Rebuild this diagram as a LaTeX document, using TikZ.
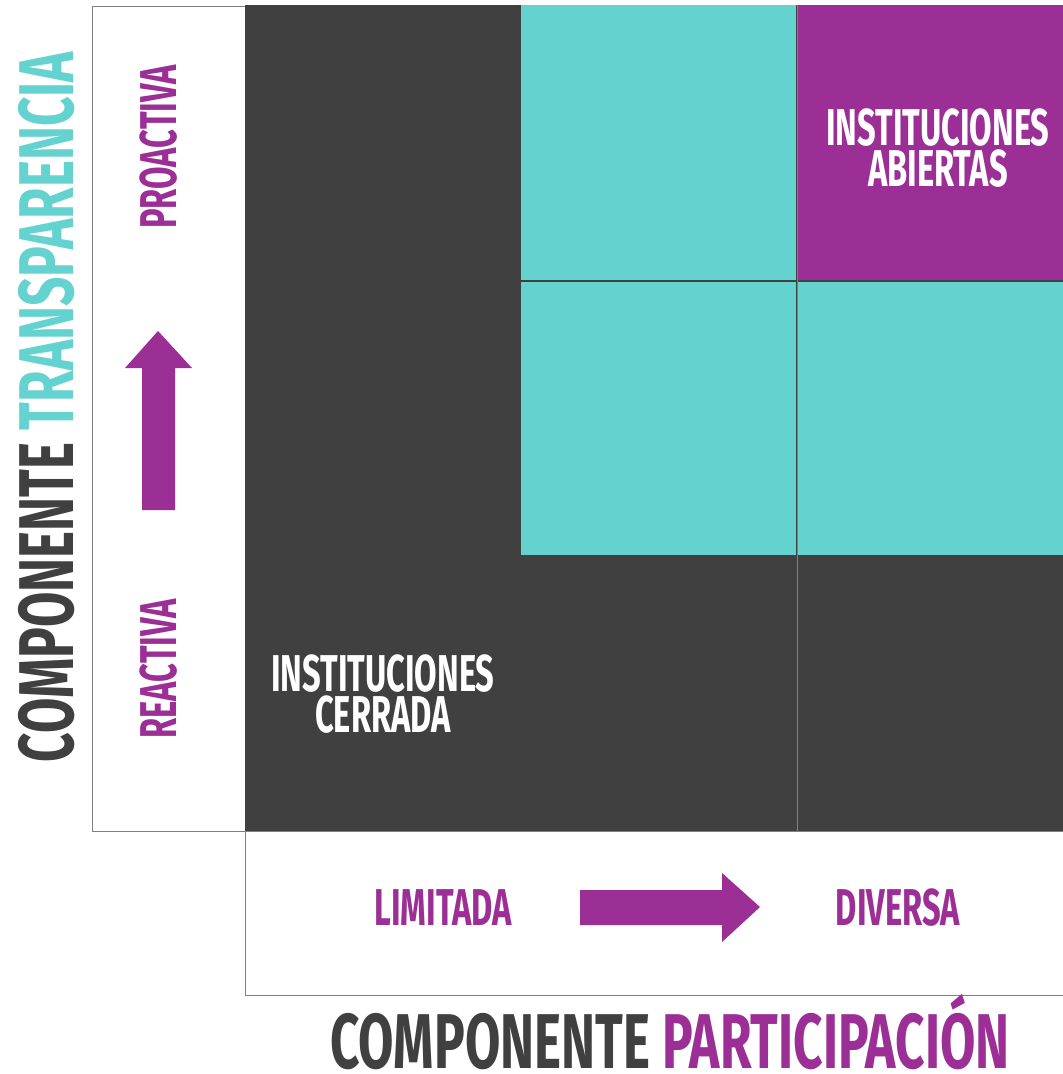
\documentclass[tikz,border=0pt]{standalone}
\usepackage{fontspec}
\newfontfamily\bebas[FakeStretch=0.63]{Fira Sans}
\newfontfamily\bebastit[FakeStretch=0.66]{Fira Sans}
\definecolor{morado}{HTML}{9B2F96}
\definecolor{turquesa}{HTML}{64D3D0}
\definecolor{oscuro}{HTML}{404040}
\gdef\Lfont{\bebas\bfseries\fontsize{52}{42}\selectfont}
\gdef\Tfont{\bebastit\bfseries\fontsize{78}{78}\selectfont}

\begin{document}
\begin{tikzpicture}[x=1bp, y=-1bp,
  etiqueta/.style={text=morado, font=\Lfont, inner sep=0pt, anchor=base},
  bloque/.style={text=white, font=\Lfont, inner sep=0pt, align=center},
  titulo/.style={text=oscuro, font=\Tfont, inner sep=0pt, anchor=base, text depth=0pt}]
\useasboundingbox (0,0) rectangle (1063,1074);
% cajas
\draw[gray, fill=white] (92,6) rectangle (245,831);
\draw[gray, fill=white] (245,831) rectangle (1063,995);
\fill[oscuro] (245,5) rectangle (1063,831);
\fill[turquesa] (521,5) rectangle (796,280);
\fill[turquesa] (521,282) rectangle (796,555);
\fill[turquesa] (798,282) rectangle (1063,555);
\fill[morado] (798,5) rectangle (1063,280);
\draw[gray] (797,5) -- (797,831);
% flechas
\fill[morado] (142,510) -- (142,368) -- (125,368) -- (158,331) -- (192,368) -- (175,368) -- (175,510) -- cycle;
\fill[morado] (580,890) -- (722,890) -- (722,873) -- (760,907) -- (722,942) -- (722,925) -- (580,925) -- cycle;
% textos
\node[etiqueta, rotate=90] (proactiva) at (176,147) {PROACTIVA};
\node[etiqueta, rotate=90] (reactiva) at (176,669) {REACTIVA};
\node[etiqueta] (limitada) at (443,925) {LIMITADA};
\node[etiqueta] (diversa) at (898,925) {DIVERSA};
\node[bloque] (abiertas) at (938,148) {INSTITUCIONES\\ABIERTAS};
\node[bloque] (cerrada) at (383,694) {INSTITUCIONES\\CERRADA};
\node[titulo, rotate=90] (transparencia) at (73,407) {COMPONENTE \textcolor{turquesa}{TRANSPARENCIA}};
\node[titulo] (participacion) at (670,1068) {COMPONENTE \textcolor{morado}{PARTICIPACIÓN}};
\end{tikzpicture}
\end{document}
